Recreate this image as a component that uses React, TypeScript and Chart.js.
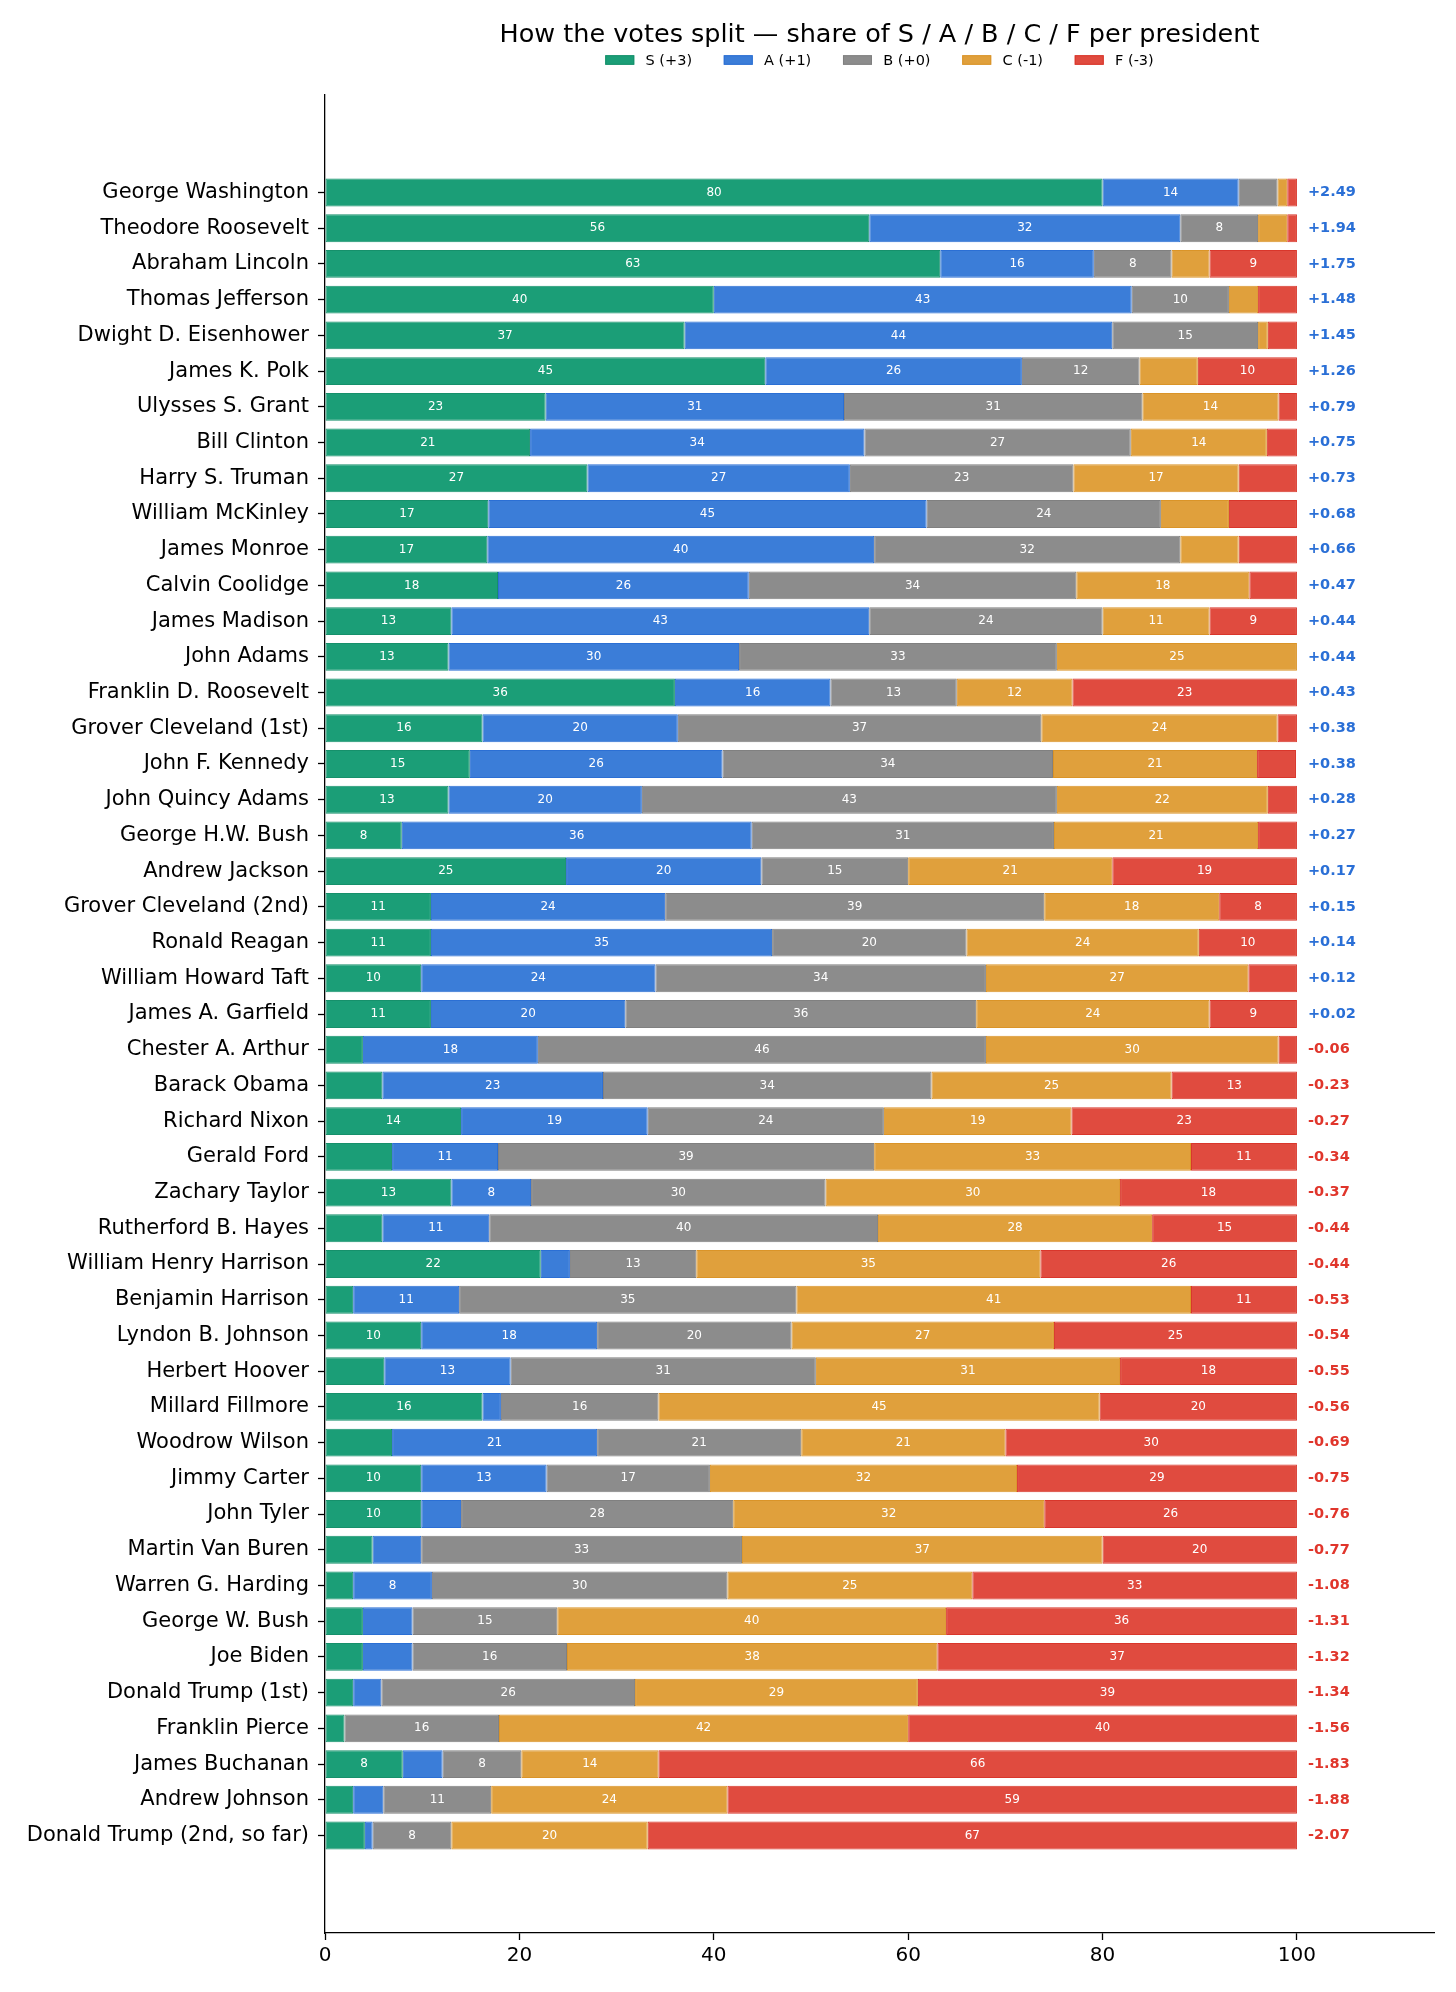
import React, { useEffect, useRef } from 'react';
import Chart from 'chart.js/auto';

const FONT = "'DejaVu Sans', 'Liberation Sans', sans-serif";

const presidents = [
  'George Washington', 'Theodore Roosevelt', 'Abraham Lincoln', 'Thomas Jefferson',
  'Dwight D. Eisenhower', 'James K. Polk', 'Ulysses S. Grant', 'Bill Clinton',
  'Harry S. Truman', 'William McKinley', 'James Monroe', 'Calvin Coolidge',
  'James Madison', 'John Adams', 'Franklin D. Roosevelt', 'Grover Cleveland (1st)',
  'John F. Kennedy', 'John Quincy Adams', 'George H.W. Bush', 'Andrew Jackson',
  'Grover Cleveland (2nd)', 'Ronald Reagan', 'William Howard Taft', 'James A. Garfield',
  'Chester A. Arthur', 'Barack Obama', 'Richard Nixon', 'Gerald Ford',
  'Zachary Taylor', 'Rutherford B. Hayes', 'William Henry Harrison', 'Benjamin Harrison',
  'Lyndon B. Johnson', 'Herbert Hoover', 'Millard Fillmore', 'Woodrow Wilson',
  'Jimmy Carter', 'John Tyler', 'Martin Van Buren', 'Warren G. Harding',
  'George W. Bush', 'Joe Biden', 'Donald Trump (1st)', 'Franklin Pierce',
  'James Buchanan', 'Andrew Johnson', 'Donald Trump (2nd, so far)',
];

// share of votes per grade, in percent
const sVals = [80, 56, 63.3, 40, 37, 45.3, 22.7, 21.1, 27, 16.8, 16.7, 17.8, 13, 12.7, 36, 16.2, 14.9, 12.7, 7.9, 24.8, 10.9, 10.9, 9.9, 10.9, 3.9, 5.9, 14, 6.9, 13, 5.9, 22.2, 2.9, 9.9, 6.1, 16.2, 6.9, 9.9, 9.9, 4.9, 2.9, 3.9, 3.9, 2.9, 2, 8, 2.9, 4.1];
const aVals = [14, 32, 15.8, 43, 44, 26.4, 30.7, 34.4, 27, 45.1, 39.8, 25.8, 43, 29.9, 16, 20.1, 26, 19.9, 36, 20.1, 24.1, 35.1, 24.1, 20, 18, 22.7, 19.2, 10.9, 8.2, 11, 3, 10.9, 18.1, 13, 1.9, 21.1, 12.9, 4.1, 5, 8.1, 5.1, 5.1, 2.9, 0, 4.1, 3.1, 0.8];
const bVals = [4, 8, 8, 10, 15, 12.1, 30.7, 27.4, 23, 24.1, 31.5, 33.7, 24, 32.7, 13, 37.4, 34, 42.7, 31.1, 15.1, 39, 20, 34, 36.1, 46.1, 33.8, 24.3, 38.7, 30.3, 40, 13, 34.7, 20, 31.4, 16.2, 21, 16.8, 28, 33, 30.4, 14.9, 15.9, 26.1, 15.9, 8.1, 11.1, 8.1];
const cVals = [1, 3, 3.9, 3, 1, 6, 14, 14, 17, 7, 6, 17.8, 11, 24.7, 11.9, 24.3, 21, 21.7, 21, 21, 18, 23.9, 27, 24, 30.1, 24.7, 19.3, 32.6, 30.3, 28.2, 35.4, 40.6, 27, 31.3, 45.4, 21, 31.6, 32, 37.1, 25.2, 40, 38.1, 29.1, 42.1, 14.1, 24.3, 20.2];
const fVals = [1, 1, 9, 4, 3, 10.2, 1.9, 3.1, 6, 7, 6, 4.9, 9, 0, 23.1, 2, 4, 3, 4, 19, 8, 10.1, 5, 9, 1.9, 12.9, 23.2, 10.9, 18.2, 14.9, 26.4, 10.9, 25, 18.2, 20.3, 30, 28.8, 26, 20, 33.4, 36.1, 37, 39, 40, 65.7, 58.6, 66.8];

// weighted score shown at the right of each bar
const scores = [2.49, 1.94, 1.75, 1.48, 1.45, 1.26, 0.79, 0.75, 0.73, 0.68, 0.66, 0.47, 0.44, 0.44, 0.43, 0.38, 0.38, 0.28, 0.27, 0.17, 0.15, 0.14, 0.12, 0.02, -0.06, -0.23, -0.27, -0.34, -0.37, -0.44, -0.44, -0.53, -0.54, -0.55, -0.56, -0.69, -0.75, -0.76, -0.77, -1.08, -1.31, -1.32, -1.34, -1.56, -1.83, -1.88, -2.07];

const gradeNames = ['S (+3)', 'A (+1)', 'B (+0)', 'C (-1)', 'F (-3)'];
const xTicks = [0, 20, 40, 60, 80, 100];

const series = [sVals, aVals, bVals, cVals, fVals];
const fillColors = ['#1b9e77', '#3b7dd8', '#8c8c8c', '#e0a03c', '#e04b3f'];
const edgeColors = ['#16906b', '#2b6fd4', '#808080', '#da9428', '#d9362b'];
const POS = '#2a6fd6';
const NEG = '#e0352b';

const barText = {
    id: 'barText',
    afterDatasetsDraw(chart: any) {
        const ctx = chart.ctx;
        ctx.save();
        ctx.font = `12px ${FONT}`;
        ctx.fillStyle = '#ffffff';
        ctx.textAlign = 'center';
        ctx.textBaseline = 'middle';
        series.forEach((vals, d) => {
            chart.getDatasetMeta(d).data.forEach((bar: any, i: number) => {
                if (vals[i] < 7.5) return;
                const { x, y, base } = bar.getProps(['x', 'y', 'base'], true);
                ctx.fillText(String(Math.round(vals[i])), (x + base) / 2, y);
            });
        });
        // scores
        const xs = chart.scales.x;
        const ys = chart.scales.y;
        ctx.font = `bold 14.5px ${FONT}`;
        ctx.textAlign = 'left';
        scores.forEach((s, i) => {
            ctx.fillStyle = s >= 0 ? POS : NEG;
            ctx.fillText((s >= 0 ? '+' : '') + s.toFixed(2), xs.getPixelForValue(101.13), ys.getPixelForValue(i));
        });
        ctx.restore();
    },
};

// legend drawn by hand so the spacing can match the original
const headerLegend = {
    id: 'headerLegend',
    afterDraw(chart: any) {
        const ctx = chart.ctx;
        const { left, right } = chart.chartArea;
        const boxW = 29, boxH = 9.5, gap = 11.3, space = 31.7, y = 60;
        ctx.save();
        ctx.font = `14.5px ${FONT}`;
        ctx.textBaseline = 'middle';
        ctx.textAlign = 'left';
        const widths = gradeNames.map((t) => boxW + gap + ctx.measureText(t).width);
        const total = widths.reduce((a, b) => a + b, 0) + space * (widths.length - 1);
        let x = (left + right) / 2 - total / 2;
        gradeNames.forEach((t, i) => {
            ctx.fillStyle = fillColors[i];
            ctx.fillRect(x, y - boxH / 2, boxW, boxH);
            ctx.strokeStyle = edgeColors[i];
            ctx.lineWidth = 1;
            ctx.strokeRect(x + 0.5, y - boxH / 2 + 0.5, boxW - 1, boxH - 1);
            ctx.fillStyle = '#000';
            ctx.fillText(t, x + boxW + gap, y + 1);
            x += widths[i] + space;
        });
        ctx.restore();
    },
};

const App: React.FC = () => {
    const canvasRef = useRef<HTMLCanvasElement>(null);
    const chartRef = useRef<Chart>();

    useEffect(() => {
        if (!canvasRef.current) return;
        if (chartRef.current) chartRef.current.destroy();

        chartRef.current = new Chart(canvasRef.current, {
            type: 'bar',
            data: {
                datasets: series.map((vals, d) => ({
                    label: gradeNames[d],
                    data: vals.map((v, i) => ({ x: v, y: i })),
                    backgroundColor: fillColors[d],
                    borderColor: edgeColors[d],
                    borderWidth: 1,
                    borderSkipped: false,
                    barPercentage: 0.78,
                    categoryPercentage: 1,
                })),
            },
            options: {
                indexAxis: 'y',
                animation: false,
                responsive: true,
                maintainAspectRatio: false,
                layout: { padding: { left: 0, right: 22, top: 0, bottom: 0 } },
                scales: {
                    x: {
                        type: 'linear',
                        stacked: true,
                        min: 0,
                        max: 114.1,
                        offset: false,
                        afterBuildTicks: (s: any) => { s.ticks = xTicks.map((v) => ({ value: v })); },
                        afterFit: (s: any) => { s.height = 59; },
                        grid: { drawOnChartArea: false, drawTicks: true, tickLength: 7, tickWidth: 1.3, tickColor: '#000' },
                        border: { display: true, color: '#000', width: 1.3 },
                        ticks: { color: '#000', font: { family: FONT, size: 20 }, padding: 4 },
                    },
                    y: {
                        type: 'linear',
                        stacked: true,
                        reverse: true,
                        offset: false,
                        min: -2.73,
                        max: 48.73,
                        afterBuildTicks: (s: any) => { s.ticks = presidents.map((_, i) => ({ value: i })); },
                        afterFit: (s: any) => { s.width = 325; },
                        grid: { drawOnChartArea: false, drawTicks: true, tickLength: 7, tickWidth: 1.3, tickColor: '#000', offset: false },
                        border: { display: true, color: '#000', width: 1.3 },
                        ticks: {
                            autoSkip: false,
                            color: '#000',
                            font: { family: FONT, size: 21 },
                            padding: 9,
                            callback: (v: any) => presidents[v] ?? '',
                        },
                    },
                },
                plugins: {
                    legend: { display: false },
                    tooltip: { enabled: false },
                    title: {
                        display: true,
                        fullSize: false,
                        text: 'How the votes split — share of S / A / B / C / F per president',
                        color: '#000',
                        font: { family: FONT, size: 25.5, weight: 'normal' },
                        padding: { top: 19.7, bottom: 44.7 },
                    },
                },
            } as any,
            plugins: [barText, headerLegend],
        });

        return () => {
            if (chartRef.current) chartRef.current.destroy();
        };
    }, []);

    return (
        <div style={{ position: 'absolute', left: 0, top: 0, width: 1456, height: 1992, background: '#fff' }}>
            <canvas ref={canvasRef}></canvas>
        </div>
    );
};

export default App;
